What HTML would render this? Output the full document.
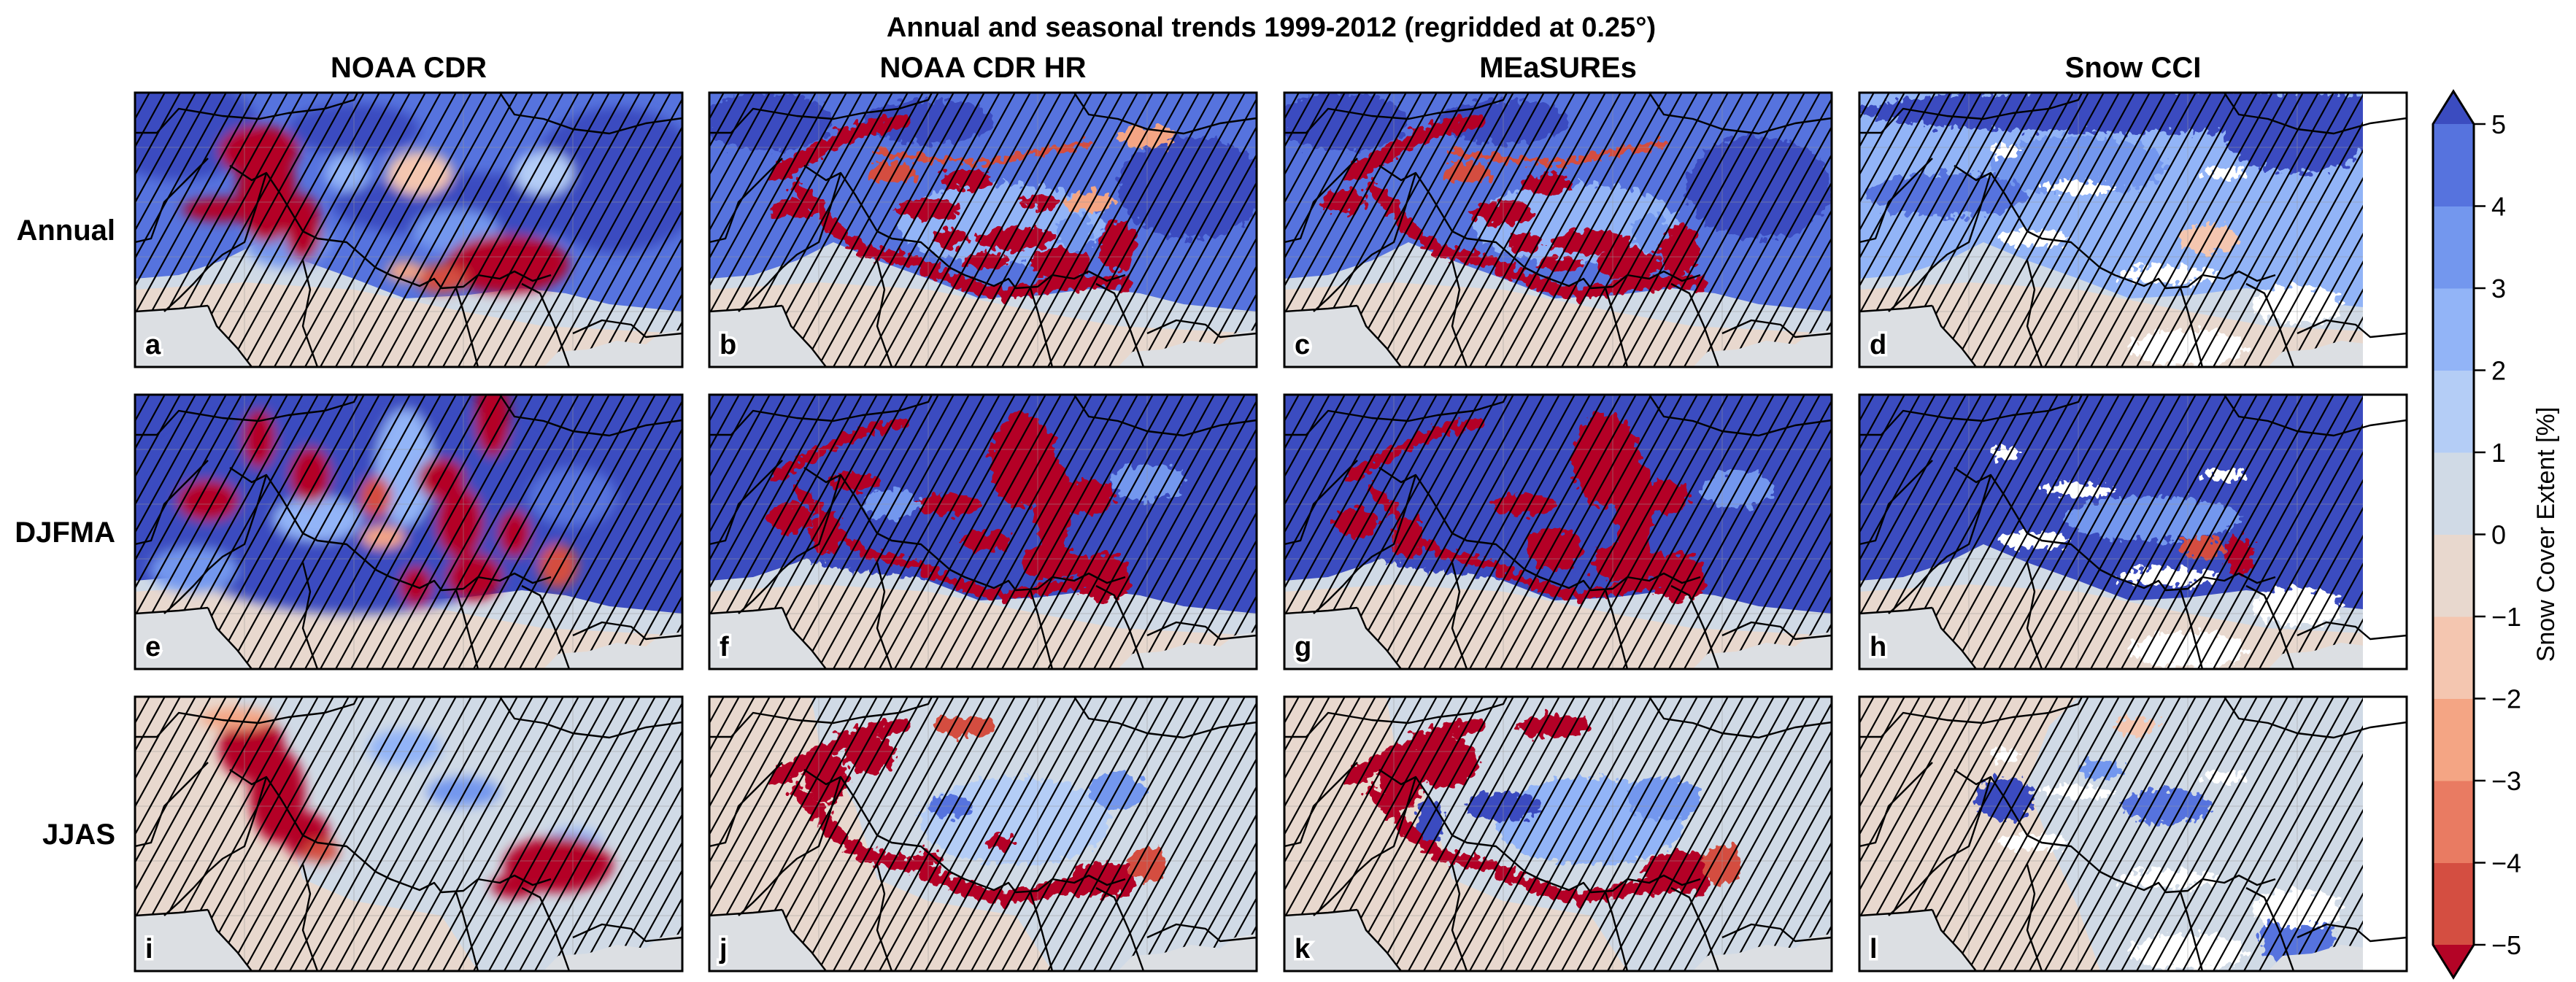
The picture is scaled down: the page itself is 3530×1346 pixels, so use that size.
<!DOCTYPE html>
<html><head><meta charset="utf-8"><style>
html,body{margin:0;padding:0;background:#fff;}
svg{display:block;font-family:"Liberation Sans",Arial,sans-serif;}
</style></head><body>
<svg id="fig" width="3530" height="1346" viewBox="0 0 3530 1346" xmlns="http://www.w3.org/2000/svg">
<defs>
<filter id="blurCdr" x="-20%" y="-20%" width="140%" height="140%"><feGaussianBlur stdDeviation="8"/></filter>
<filter id="rag" x="-10%" y="-10%" width="120%" height="120%">
<feTurbulence type="fractalNoise" baseFrequency="0.09" numOctaves="2" seed="4" result="n"/>
<feDisplacementMap in="SourceGraphic" in2="n" scale="24" xChannelSelector="R" yChannelSelector="G"/>
</filter>
<filter id="ragB" x="-10%" y="-10%" width="120%" height="120%">
<feTurbulence type="fractalNoise" baseFrequency="0.1" numOctaves="2" seed="9" result="n"/>
<feDisplacementMap in="SourceGraphic" in2="n" scale="28" xChannelSelector="R" yChannelSelector="G"/>
</filter>
<clipPath id="pclip"><rect x="0" y="0" width="750" height="376"/></clipPath>
</defs>
<text x="1742" y="50" text-anchor="middle" font-size="38" font-weight="bold">Annual and seasonal trends 1999-2012 (regridded at 0.25°)</text>
<g id="panels"></g>
<g id="cbar"></g>
</svg>
<script>
// colour scale
const levelColors=['#b40426','#d44e41','#e97b62','#f4a584','#f4c6b0','#e8d8ce','#d0dae6','#b4cdf6','#92b4f7','#7397ee','#5673de','#3b4cc0'];
const tickValues=[5,4,3,2,1,0,-1,-2,-3,-4,-5];
const colTitles=['NOAA CDR','NOAA CDR HR','MEaSUREs','Snow CCI'];
const rowTitles=['Annual','DJFMA','JJAS'];
const letters=['a','b','c','d','e','f','g','h','i','j','k','l'];
// panel data: [cx, cy, rx, ry, trend %]
const northA=4.5, northE=6, northI=0.5;
const blobsA=[[60,50,110,70,6],[300,50,90,35,6],[660,120,120,100,6],[470,155,200,45,5.5],[210,205,60,35,3],[440,190,60,30,3.5],[390,110,45,30,-2],[170,80,55,35,-6],[180,135,40,70,-6],[230,185,25,45,-6],[120,160,55,16,-6],[510,235,85,40,-6],[420,255,35,20,-5],[370,245,25,14,-3],[560,110,40,30,1.5],[290,110,30,25,2]];
const blobsE=[[300,150,300,150,6],[370,100,40,80,2],[250,170,60,30,2.5],[600,140,60,40,4],[170,60,22,40,-6],[100,145,42,28,-6],[240,110,28,38,-6],[330,140,22,28,-5],[490,30,24,55,-6],[420,115,32,28,-6],[445,175,32,48,-6],[520,190,22,32,-6],[465,250,38,32,-6],[385,262,22,27,-6],[580,235,27,30,-5],[340,195,30,15,-3],[80,240,60,30,3]];
const blobsI=[[370,70,50,25,2],[450,130,50,20,3],[600,200,40,20,2],[160,70,45,45,-6],[195,135,38,65,-6],[235,190,32,32,-6],[255,212,25,15,-5],[580,230,75,38,-6],[520,260,32,16,-6],[140,30,50,15,-3]];
const blobsB=[[80,40,90,40,6],[660,130,100,70,6],[300,40,90,30,6],[400,180,140,55,2],[300,160,45,14,-6],[420,200,55,16,-6],[480,235,40,22,-6],[560,210,25,35,-6],[350,120,35,14,-6],[250,110,35,14,-5],[520,150,35,14,-3],[600,60,40,15,-3],[380,230,30,10,-6],[450,150,25,10,-6],[330,200,25,12,-6],[110,160,30,12,-6],[500,190,25,25,3]];
const blobsF=[[300,120,300,130,6],[430,90,45,65,-6],[470,150,25,65,-6],[520,140,35,25,-6],[110,170,32,20,-6],[160,190,22,28,-6],[470,230,45,24,-6],[540,250,34,32,-6],[330,150,45,14,-6],[200,120,35,12,-6],[600,120,50,25,3],[380,200,35,14,-6],[250,150,40,20,3]];
const blobsC=[[80,40,90,40,6],[650,130,100,70,6],[300,40,90,30,6],[400,180,140,55,2],[300,165,45,15,-6],[420,205,55,17,-6],[470,235,44,22,-6],[540,215,28,35,-6],[360,125,35,14,-6],[250,110,35,14,-5],[80,150,32,16,-6],[380,235,30,10,-6],[330,205,25,12,-6],[500,190,25,25,3]];
const blobsG=[[300,120,300,130,6],[440,90,45,65,-6],[480,150,28,65,-6],[520,140,35,24,-6],[100,175,32,20,-6],[170,195,22,28,-6],[470,230,50,28,-6],[540,250,34,32,-6],[330,150,45,14,-6],[370,210,38,28,-6],[620,130,50,25,3]];
const blobsJ=[[420,170,130,60,1.5],[560,130,40,25,3],[330,150,30,15,4],[220,80,35,25,-6],[160,110,30,35,-6],[540,250,45,24,-6],[600,230,28,24,-5],[350,40,45,14,-5],[400,200,20,10,-6],[300,220,20,10,-6]];
const blobsK=[[420,170,130,60,2],[520,140,50,30,3.5],[300,150,50,20,5],[220,90,45,35,-6],[160,110,30,45,-6],[200,170,20,30,6],[540,240,50,28,-6],[600,230,28,28,-5],[370,40,50,16,-6]];
const blobsD=[[400,25,400,30,6],[600,60,100,50,5],[300,100,120,40,3],[120,140,110,30,4],[470,150,80,30,2],[480,200,40,20,-2]];
const blobsH=[[350,60,380,80,6],[600,110,100,50,6],[150,140,130,35,5],[400,170,120,30,3],[520,220,20,25,-6],[470,210,30,15,-5]];
const blobsL=[[200,140,40,30,5],[420,150,60,25,4],[330,100,30,15,3],[600,330,50,40,4],[380,40,30,12,-2]];
// ribbons: [points], width, trend
const arcPts=[[120,130],[150,160],[175,190],[210,215],[250,225],[290,235],[330,255],[370,270],[410,275],[450,268],[490,262],[530,258],[570,262]];
const karPts=[[95,110],[140,85],[180,62],[220,48],[262,40]];
const kunPts=[[230,80],[300,92],[380,96],[450,82],[520,70]];

const panelDefs=[
 {kind:'cdr',north:northA,blobs:blobsA,rib:[]},
 {kind:'hr',north:4.5,blobs:blobsB,rib:[[arcPts,18,-6],[karPts,20,-6],[kunPts,8,-5]]},
 {kind:'hr',north:4.5,blobs:blobsC,rib:[[arcPts,18,-6],[karPts,20,-6],[kunPts,9,-5]]},
 {kind:'cci',north:2.5,blobs:blobsD,rib:[]},
 {kind:'cdr',north:northE,blobs:blobsE,rib:[]},
 {kind:'hr',north:5.5,blobs:blobsF,rib:[[arcPts,14,-6],[karPts,14,-6]]},
 {kind:'hr',north:5.5,blobs:blobsG,rib:[[arcPts,14,-6],[karPts,15,-6]]},
 {kind:'cci',north:5,blobs:blobsH,rib:[]},
 {kind:'cdr',north:northI,blobs:blobsI,rib:[]},
 {kind:'hrs',north:0.5,blobs:blobsJ,rib:[[arcPts,20,-6],[karPts,20,-6]]},
 {kind:'hrs',north:0.5,blobs:blobsK,rib:[[arcPts,18,-6],[karPts,20,-6]]},
 {kind:'ccis',north:0.5,blobs:blobsL,rib:[]}
];
const colX=[185,972,1760,2548], rowY=[127,541,955];
const PW=750, PH=376;
const NS='http://www.w3.org/2000/svg';
function colorFor(v){ if(v<-5) return levelColors[0]; if(v>=5) return levelColors[11]; return levelColors[Math.floor(v)+6]; }
function mk(tag,attrs,parent){const e=document.createElementNS(NS,tag);for(const k in attrs)e.setAttribute(k,attrs[k]);if(parent)parent.appendChild(e);return e;}
const northPoly='0,0 750,0 750,300 650,290 590,275 530,268 450,278 370,282 300,255 230,230 170,205 120,230 60,250 0,255';
const oceanW='0,300 60,296 100,292 112,320 140,350 160,376 0,376';
const oceanE='560,376 580,355 620,352 660,340 700,345 720,330 750,325 750,376';
const borders=[
 [[0,55],[30,55],[60,22],[120,32],[170,36],[210,28],[260,22],[300,10],[305,0]],
 [[130,100],[160,120],[180,110],[200,140],[230,190],[250,200],[290,205],[330,240],[350,250],[390,265],[410,255],[420,268],[450,266],[470,250],[500,255],[520,245],[545,258],[570,250]],
 [[180,110],[165,160],[150,205],[120,222],[100,240],[80,262],[60,282],[40,300]],
 [[100,90],[60,130],[40,150],[22,200],[0,205]],
 [[500,0],[520,30],[560,36],[600,50],[650,56],[700,42],[750,35]],
 [[440,268],[450,300],[458,330],[470,376]],
 [[530,262],[555,275],[575,320],[595,376]],
 [[600,330],[640,312],[680,318],[700,335],[750,330]],
 [[100,292],[112,320],[140,350],[160,376]],
 [[0,300],[60,296],[100,292]],
 [[230,230],[240,270],[230,320],[250,376]]
];
const panelsG=document.getElementById('panels');
panelDefs.forEach((p,i)=>{
 const r=Math.floor(i/4), c=i%4;
 const g=mk('g',{transform:`translate(${colX[c]},${rowY[r]})`},panelsG);
 
 
 const inner=mk('g',{'clip-path':'url(#pclip)'},g);
 mk('rect',{x:0,y:0,width:PW,height:PH,fill:colorFor(-0.5)},inner);
 let lz=mk('polygon',{points:'0,0 750,0 750,330 560,320 450,300 300,270 150,260 0,270',fill:colorFor(0.5)},inner);
 if(p.kind==='hrs'||p.kind==='ccis'||p.kind==='cdr'&&p.north<1){ lz.setAttribute('points','140,0 750,0 750,376 470,376 420,300 300,280 230,250 200,150 150,60'); }
 if(p.kind==='ccis') lz.setAttribute('points','300,0 750,0 750,376 330,376 300,290 260,200 230,120 260,40');
 const np=mk('polygon',{points:northPoly,fill:colorFor(p.north)},inner);
 
 
 if(p.north<1) np.setAttribute('opacity','0');
 const bg=mk('g',{},inner);
 if(p.kind==='cdr') bg.setAttribute('filter','url(#blurCdr)');
 else if(p.kind.startsWith('hr')) bg.setAttribute('filter','url(#rag)');
 else bg.setAttribute('filter','url(#ragB)');
 p.blobs.forEach((b,k)=>{
   const e=mk('ellipse',{cx:b[0],cy:b[1],rx:b[2],ry:b[3],fill:colorFor(b[4])},bg);
   
   
 });
 p.rib.forEach(rb=>{
   const pl=mk('polyline',{points:rb[0].map(q=>q.join(',')).join(' '),fill:'none',stroke:colorFor(rb[2]),'stroke-width':rb[1],'stroke-linejoin':'round','stroke-linecap':'round'},bg);
   
   
 });
 if(p.kind.startsWith('cci')){
   const w=mk('g',{filter:'url(#ragB)'},inner);
   [[300,130,50,10],[240,200,50,12],[420,250,70,12],[600,290,60,25],[200,80,20,10],[500,110,30,8],[450,350,80,25]].forEach(q=>mk('ellipse',{cx:q[0],cy:q[1],rx:q[2],ry:q[3],fill:'#fff'},w));
 }
 [150,300,450,600].forEach(x=>mk('line',{x1:x,y1:0,x2:x,y2:PH,stroke:'#999','stroke-opacity':0.25,'stroke-width':2},inner));
 [75,150,225,300].forEach(y=>mk('line',{x1:0,y1:y,x2:PW,y2:y,stroke:'#999','stroke-opacity':0.25,'stroke-width':2},inner));
 const hg=mk('g',{stroke:'#000','stroke-width':2.2},inner);
 
 
 for(let x0=-250;x0<PW+20;x0+=21){ mk('line',{x1:x0,y1:PH,x2:x0+0.55*PH,y2:0},hg); }
 mk('polygon',{points:oceanW,fill:'#dcdfe3'},inner);
 mk('polygon',{points:oceanE,fill:'#dcdfe3'},inner);
 if(p.kind.startsWith('cci')) mk('rect',{x:690,y:0,width:60,height:PH,fill:'#fff'},inner);
 const bgp=mk('g',{fill:'none',stroke:'#000','stroke-width':2.4,'stroke-linejoin':'round'},inner);
 
 
 borders.forEach(b=>mk('polyline',{points:b.map(q=>q.join(',')).join(' ')},bgp));
 const t=mk('text',{x:14,y:358,'font-size':38,'font-weight':'bold',stroke:'#fff','stroke-width':7,'paint-order':'stroke',fill:'#000'},g);
 t.textContent=letters[i];
 
 
 const fr=mk('rect',{x:0,y:0,width:PW,height:PH,fill:'none',stroke:'#000','stroke-width':3},g);
 
 
});
const svg=document.getElementById('fig');
colTitles.forEach((s,c)=>{
 const t=mk('text',{x:colX[c]+PW/2,y:106,'text-anchor':'middle','font-size':40,'font-weight':'bold'},svg);
 t.textContent=s;
 
 
});
rowTitles.forEach((s,r)=>{
 const t=mk('text',{x:158,y:rowY[r]+PH/2+14,'text-anchor':'end','font-size':40,'font-weight':'bold'},svg);
 t.textContent=s;
 
 
});
const cb=document.getElementById('cbar');
const cbX=3334, cbW=56, cbTop=170, cbBot=1295;
function yOf(v){return cbTop+(5-v)/10*(cbBot-cbTop);}
for(let v=-5;v<5;v++){
 const s=mk('rect',{x:cbX,y:yOf(v+1),width:cbW,height:yOf(v)-yOf(v+1)+0.5,fill:colorFor(v+0.5)},cb);
 
 
}
mk('polygon',{points:`${cbX},${cbTop} ${cbX+cbW/2},${cbTop-45} ${cbX+cbW},${cbTop}`,fill:colorFor(6)},cb);
mk('polygon',{points:`${cbX},${cbBot} ${cbX+cbW/2},${cbBot+45} ${cbX+cbW},${cbBot}`,fill:colorFor(-6)},cb);
mk('polygon',{points:`${cbX},${cbTop} ${cbX+cbW/2},${cbTop-45} ${cbX+cbW},${cbTop} ${cbX+cbW},${cbBot} ${cbX+cbW/2},${cbBot+45} ${cbX},${cbBot}`,fill:'none',stroke:'#000','stroke-width':3},cb);
tickValues.forEach(v=>{
 const y=yOf(v);
 mk('line',{x1:cbX+cbW,y1:y,x2:cbX+cbW+16,y2:y,stroke:'#000','stroke-width':2.5},cb);
 const t=mk('text',{x:cbX+cbW+24,y:y+13,'font-size':36},cb);
 t.textContent=(v<0?'−':'')+Math.abs(v);
 
 
});
const cl=mk('text',{x:0,y:0,'font-size':34,'text-anchor':'middle',transform:`translate(3500,${(cbTop+cbBot)/2}) rotate(-90)`},cb);
cl.textContent='Snow Cover Extent [%]';


</script>
</body></html>
